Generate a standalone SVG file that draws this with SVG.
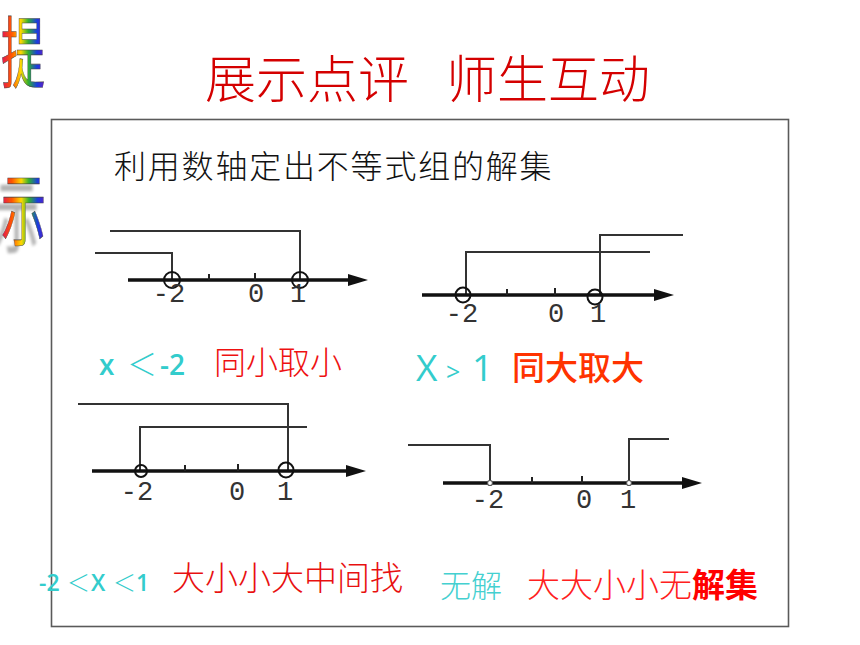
<svg xmlns="http://www.w3.org/2000/svg" width="860" height="645" viewBox="0 0 860 645">
<defs>
  <linearGradient id="rainbow" x1="0" y1="0" x2="1" y2="0">
    <stop offset="0" stop-color="#e0105a"/>
    <stop offset="0.25" stop-color="#ff5a00"/>
    <stop offset="0.45" stop-color="#ffd800"/>
    <stop offset="0.62" stop-color="#30b030"/>
    <stop offset="0.82" stop-color="#1a3ce0"/>
    <stop offset="1" stop-color="#6a1cc0"/>
  </linearGradient>
  <filter id="shadow" x="-50%" y="-20%" width="200%" height="150%">
    <feGaussianBlur in="SourceAlpha" stdDeviation="1.5" result="b"/>
    <feOffset in="b" dx="-7" dy="7" result="o"/>
    <feComponentTransfer in="o" result="s"><feFuncA type="linear" slope="0.3"/></feComponentTransfer>
    <feMerge><feMergeNode in="s"/><feMergeNode in="SourceGraphic"/></feMerge>
  </filter>
  <marker id="arrow" markerUnits="userSpaceOnUse" markerWidth="20" markerHeight="12" refX="0" refY="6" orient="auto">
    <path d="M0,0 L20,6 L0,12 Z" fill="#111"/>
  </marker>
</defs>
<style>
  .cjk { font-family: "Noto Sans CJK SC", sans-serif; }
  .thin { font-weight: 300; }
  .rb { fill: url(#rainbow); stroke: #444; stroke-width: 0.6; }
  .axis { stroke: #111; stroke-width: 3.5; fill: none; }
  .tick { stroke: #222; stroke-width: 2; }
  .rng { stroke: #333; stroke-width: 2; fill: none; }
  .ring { stroke: #111; stroke-width: 2; fill: none; }
  .dot { stroke: #555; stroke-width: 1.2; fill: #fff; }
  .num { font-family: "Liberation Mono", monospace; font-size: 27px; fill: #333; text-anchor: middle; }
  .cy { fill: #33cccc; font-family: "Open Sans", "Noto Sans CJK SC", sans-serif; }
</style>
<rect width="860" height="645" fill="#ffffff"/>

<g id="hint">
  <text class="cjk rb" x="1" y="82" font-size="78" textLength="44" lengthAdjust="spacingAndGlyphs">提</text>
  <text class="cjk rb" x="1" y="239" font-size="80" textLength="45" lengthAdjust="spacingAndGlyphs" filter="url(#shadow)">示</text>
</g>

<g id="title">
  <text class="cjk thin" x="205" y="98" font-size="51" fill="#d40000">展示点评</text>
  <text class="cjk thin" x="446" y="98" font-size="51" fill="#d40000">师生互动</text>
</g>

<g id="frame">
  <rect x="51.5" y="119.5" width="737" height="507" fill="#ffffff" stroke="#5a5a5a" stroke-width="1.6"/>
</g>

<g id="subtitle">
  <text class="cjk thin" x="114" y="178" font-size="32" letter-spacing="1.8" fill="#111">利用数轴定出不等式组的解集</text>
</g>

<g id="numberline1">
  <path class="rng" d="M110,231 H300 V280 M95,253 H172 V280"/>
  <line class="axis" x1="128" y1="280" x2="348" y2="280" marker-end="url(#arrow)"/>
  <line class="tick" x1="209" y1="274" x2="209" y2="280"/>
  <line class="tick" x1="255" y1="273" x2="255" y2="280"/>
  <circle class="ring" cx="172" cy="280" r="8"/>
  <circle class="ring" cx="300" cy="280" r="8"/>
  <text class="num" x="169" y="302">-2</text>
  <text class="num" x="256" y="302">0</text>
  <text class="num" x="298" y="302">1</text>
</g>

<g id="numberline2">
  <path class="rng" d="M466,295 V252 H650 M600,295 V235 H683"/>
  <line class="axis" x1="422" y1="295" x2="654" y2="295" marker-end="url(#arrow)"/>
  <line class="tick" x1="507" y1="289" x2="507" y2="295"/>
  <line class="tick" x1="555" y1="288" x2="555" y2="295"/>
  <circle class="ring" cx="463" cy="295" r="7.5"/>
  <circle class="ring" cx="595" cy="297" r="7.5"/>
  <text class="num" x="462" y="322">-2</text>
  <text class="num" x="556" y="322">0</text>
  <text class="num" x="598" y="322">1</text>
</g>

<g id="numberline3">
  <path class="rng" d="M78,404 H288 V471 M140,471 V427 H307"/>
  <line class="axis" x1="92" y1="471" x2="346" y2="471" marker-end="url(#arrow)"/>
  <line class="tick" x1="185" y1="465" x2="185" y2="471"/>
  <line class="tick" x1="238" y1="464" x2="238" y2="471"/>
  <circle class="ring" cx="141" cy="471" r="6"/>
  <circle class="ring" cx="286" cy="470" r="7.5"/>
  <text class="num" x="137" y="500">-2</text>
  <text class="num" x="237" y="500">0</text>
  <text class="num" x="285" y="500">1</text>
</g>

<g id="numberline4">
  <path class="rng" d="M408,445 H490 V483 M629,483 V439 H669"/>
  <line class="axis" x1="443" y1="483" x2="682" y2="483" marker-end="url(#arrow)"/>
  <line class="tick" x1="532" y1="477" x2="532" y2="483"/>
  <line class="tick" x1="582" y1="476" x2="582" y2="483"/>
  <circle class="dot" cx="490" cy="483" r="2.5"/>
  <circle class="dot" cx="629" cy="483" r="2.5"/>
  <text class="num" x="488" y="508">-2</text>
  <text class="num" x="584" y="508">0</text>
  <text class="num" x="628" y="508">1</text>
</g>

<g id="label1">
  <text class="cy" y="375" font-size="28" font-weight="600"><tspan x="99">x</tspan><tspan x="127" font-weight="300" font-size="30">＜</tspan><tspan x="160">-2</tspan></text>
  <text class="cjk thin" x="214" y="374" font-size="32" fill="#ee1111">同小取小</text>
</g>

<g id="label2">
  <text class="cy" y="381" font-size="37" font-weight="500"><tspan x="416">X</tspan><tspan x="446" font-size="25">&gt;</tspan><tspan x="472">1</tspan></text>
  <text class="cjk" x="512" y="380" font-size="33" font-weight="500" fill="#ff3300">同大取大</text>
</g>

<g id="label3">
  <text class="cy" y="591" font-size="23" font-weight="600"><tspan x="39">-2</tspan><tspan x="67" font-weight="300">＜</tspan><tspan x="91">X</tspan><tspan x="113" font-weight="300">＜</tspan><tspan x="136">1</tspan></text>
  <text class="cjk thin" x="172" y="590" font-size="33" fill="#e81010">大小小大中间找</text>
</g>

<g id="label4">
  <text class="cjk thin" x="440" y="597" font-size="31" fill="#44d0d0">无解</text>
  <text class="cjk thin" x="527" y="597" font-size="33" fill="#ff2020">大大小小无<tspan font-weight="700" fill="#ff0000">解集</tspan></text>
</g>
</svg>
